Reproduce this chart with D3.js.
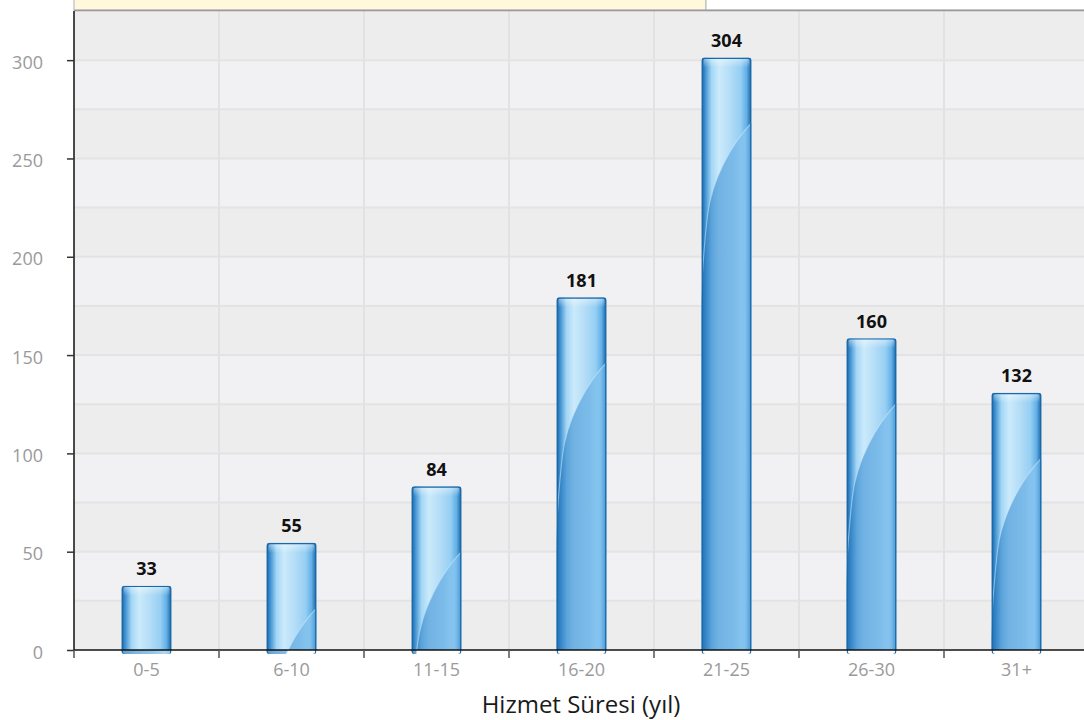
<!DOCTYPE html>
<html><head><meta charset="utf-8">
<script src="https://cdn.jsdelivr.net/npm/d3@7"></script>
<style>html,body{margin:0;padding:0;background:#fff;overflow:hidden}</style>
</head><body>
<svg id="c" width="1084" height="720"></svg>
<script>
const categories = ["0-5","6-10","11-15","16-20","21-25","26-30","31+"];
const values = [33,55,84,181,304,160,132];
const yTicks = [0,50,100,150,200,250,300];
const xTitle = "Hizmet Süresi (yıl)";

(function(){
const svg = d3.select("#c");
const font = "'Open Sans', 'Noto Sans', sans-serif";
const leftX = 74, bottomY = 650, topY = 11;
const x = d3.scaleBand().domain(categories).range([leftX, leftX + 145*7]).padding(0);
const y = d3.scaleLinear().domain([0, 325]).range([bottomY, topY]);
// bars in the source are drawn on a slightly compressed scale
const yBar = d3.scaleLinear().domain([0, 325]).range([bottomY, 16.6]);

svg.append("rect").attr("x", leftX).attr("y", -2).attr("width", 632).attr("height", 12)
  .attr("fill", "#fff8dc").attr("stroke", "#c9c9c9").attr("stroke-width", 1.5);
svg.append("rect").attr("x", 706).attr("y", -2).attr("width", 400).attr("height", 12)
  .attr("fill", "#ffffff").attr("stroke", "#bdbdbd").attr("stroke-width", 1.2);

const bands = d3.range(0, 325, 25);
svg.append("g").selectAll("rect").data(bands).join("rect")
  .attr("x", leftX).attr("width", 1084 - leftX)
  .attr("y", d => y(d + 25)).attr("height", d => y(d) - y(d + 25))
  .attr("fill", d => (d / 25) % 2 === 0 ? "#ededed" : "#f1f1f3");
svg.append("g").selectAll("line").data(d3.range(25, 325, 25)).join("line")
  .attr("x1", leftX).attr("x2", 1084).attr("y1", d => y(d)).attr("y2", d => y(d))
  .attr("stroke", "#e3e3e5").attr("stroke-width", 2);
svg.append("g").selectAll("line").data(categories.slice(1)).join("line")
  .attr("x1", d => x(d)).attr("x2", d => x(d)).attr("y1", topY).attr("y2", bottomY)
  .attr("stroke", "#e2e2e2").attr("stroke-width", 2);

svg.append("line").attr("x1", leftX).attr("x2", 1084).attr("y1", 10.5).attr("y2", 10.5)
  .attr("stroke", "#999").attr("stroke-width", 1.5);

const defs = svg.append("defs");
const g1 = defs.append("linearGradient").attr("id", "barG").attr("x1", "0").attr("x2", "1").attr("y1", "0").attr("y2", "0");
[[0,"#155f9f"],[0.07,"#3d8fd0"],[0.2,"#a3d6f5"],[0.35,"#cbeafb"],[0.55,"#b6def7"],[0.78,"#96cff3"],[0.9,"#62b0e7"],[1,"#14609f"]]
  .forEach(([o,c]) => g1.append("stop").attr("offset", o).attr("stop-color", c));
const g2 = defs.append("linearGradient").attr("id", "swG").attr("x1", "0").attr("x2", "1").attr("y1", "0").attr("y2", "0");
[[0,"#1c6fb6"],[0.3,"#4596d6"],[0.65,"#68afe5"],[0.85,"#8ac6f0"],[1,"#5aa8e2"]]
  .forEach(([o,c]) => g2.append("stop").attr("offset", o).attr("stop-color", c));
const g3 = defs.append("linearGradient").attr("id", "topG").attr("x1", "0").attr("x2", "0").attr("y1", "0").attr("y2", "1");
g3.append("stop").attr("offset", 0).attr("stop-color", "#ffffff").attr("stop-opacity", 0.5);
g3.append("stop").attr("offset", 1).attr("stop-color", "#ffffff").attr("stop-opacity", 0);

const bw = 50;
const bars = svg.append("g").selectAll("g").data(values).join("g")
  .attr("transform", (d, i) => `translate(${x(categories[i]) + x.bandwidth()/2 - bw/2},${yBar(d)})`);
bars.each(function(d, i) {
  const g = d3.select(this);
  const h = bottomY - yBar(d);
  const cid = "clip" + i;
  defs.append("clipPath").attr("id", cid).append("rect")
    .attr("width", bw).attr("height", h + 4).attr("rx", 3).attr("ry", 3);
  const inner = g.append("g").attr("clip-path", `url(#${cid})`);
  inner.append("rect").attr("width", bw).attr("height", h).attr("fill", "url(#barG)");
  const sy = 68;
  const sw = `M${bw+1},${sy-4} C${bw*0.6},${sy+18} ${bw*0.2},${sy+55} ${bw*0.12},${sy+90} C${bw*0.05},${sy+120} ${-1},${sy+170} ${-2},${sy+220}`;
  inner.append("path")
    .attr("d", sw + ` L-2,${h} L${bw},${h} Z`)
    .attr("fill", "url(#swG)").attr("opacity", 0.7);
  inner.append("path").attr("d", sw)
    .attr("fill", "none").attr("stroke", "#d6eefc").attr("stroke-opacity", 0.5).attr("stroke-width", 1.2);
  inner.append("rect").attr("x", 2).attr("width", bw-4).attr("height", 10).attr("fill", "url(#topG)");
  inner.append("rect").attr("x", 0.7).attr("y", 0.7).attr("width", bw-1.4).attr("height", h+4).attr("rx", 3)
    .attr("fill", "none").attr("stroke", "#1a6aaa").attr("stroke-width", 1.4);
});

svg.append("g").selectAll("text").data(values).join("text")
  .attr("x", (d, i) => x(categories[i]) + x.bandwidth()/2)
  .attr("y", d => yBar(d) - 10.5)
  .attr("text-anchor", "middle").attr("font-family", font).attr("font-weight", "bold")
  .attr("font-size", 18).attr("fill", "#111").text(d => d);

const ya = svg.append("g").attr("transform", `translate(${leftX},0)`)
  .call(d3.axisLeft(y).tickValues(yTicks).tickSize(7).tickPadding(24));
ya.select(".domain").attr("stroke", "#111").attr("stroke-width", 1.5).attr("d", `M0,${topY}V${bottomY}`);
ya.selectAll(".tick line").attr("stroke", "#333").attr("stroke-width", 1.5);
ya.selectAll("text").attr("font-family", font).attr("font-size", 18).attr("fill", "#9a9a9a").attr("dy", "0.45em");

const xa = svg.append("g").attr("transform", `translate(0,${bottomY})`)
  .call(d3.axisBottom(x).tickSize(0).tickPadding(13));
xa.select(".domain").attr("stroke", "#111").attr("stroke-width", 1.5).attr("d", `M${leftX},0H1084`);
xa.selectAll("text").attr("font-family", font).attr("font-size", 18).attr("fill", "#9a9a9a");
svg.append("g").selectAll("line").data(categories).join("line")
  .attr("x1", d => x(d)).attr("x2", d => x(d)).attr("y1", bottomY).attr("y2", bottomY + 8)
  .attr("stroke", "#555").attr("stroke-width", 1.5);

svg.append("text").attr("x", 581).attr("y", 713).attr("text-anchor", "middle")
  .attr("font-family", font).attr("font-size", 24).attr("fill", "#1a1a1a").text(xTitle);
})();
</script>
</body></html>
